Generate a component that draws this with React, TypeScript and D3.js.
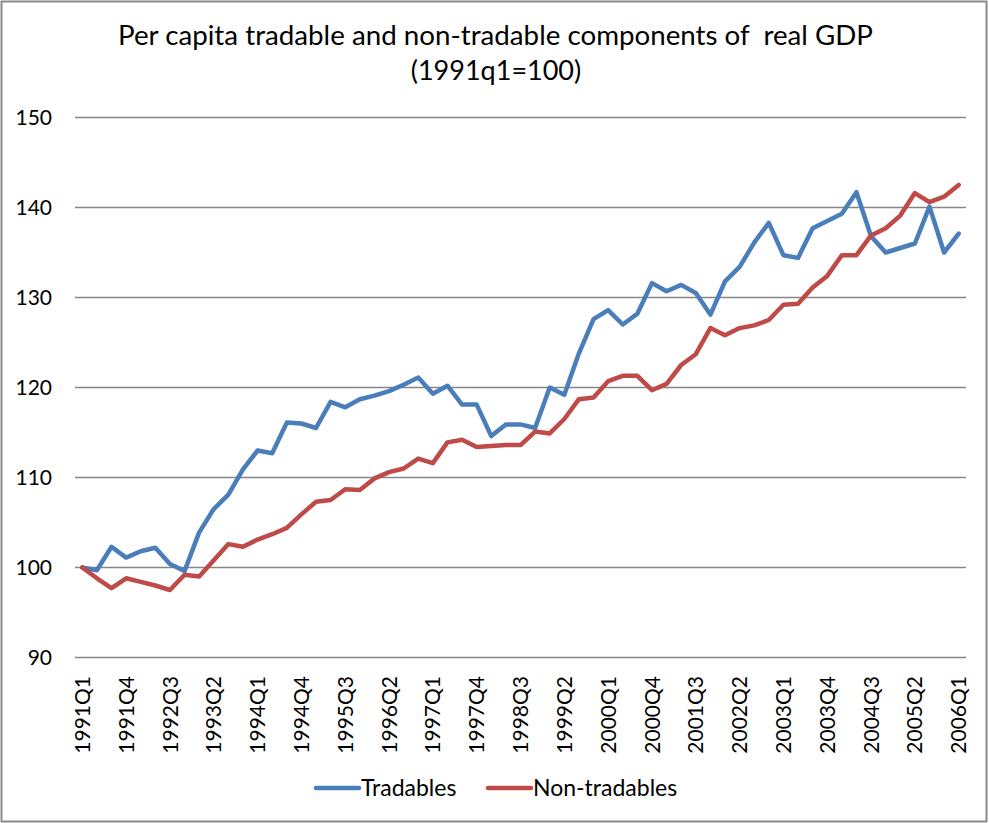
import * as d3 from "d3";
import { useEffect, useRef } from "react";

const quarters = [
  "1991Q1", "1991Q2", "1991Q3", "1991Q4", "1992Q1", "1992Q2", "1992Q3", "1992Q4",
  "1993Q1", "1993Q2", "1993Q3", "1993Q4", "1994Q1", "1994Q2", "1994Q3", "1994Q4",
  "1995Q1", "1995Q2", "1995Q3", "1995Q4", "1996Q1", "1996Q2", "1996Q3", "1996Q4",
  "1997Q1", "1997Q2", "1997Q3", "1997Q4", "1998Q1", "1998Q2", "1998Q3", "1998Q4",
  "1999Q1", "1999Q2", "1999Q3", "1999Q4", "2000Q1", "2000Q2", "2000Q3", "2000Q4",
  "2001Q1", "2001Q2", "2001Q3", "2001Q4", "2002Q1", "2002Q2", "2002Q3", "2002Q4",
  "2003Q1", "2003Q2", "2003Q3", "2003Q4", "2004Q1", "2004Q2", "2004Q3", "2004Q4",
  "2005Q1", "2005Q2", "2005Q3", "2005Q4", "2006Q1",
];

const tradables = [
  100, 99.7, 102.3, 101.1, 101.8, 102.2, 100.4, 99.6, 103.9, 106.5,
  108.1, 110.9, 113.0, 112.7, 116.1, 116.0, 115.5, 118.4, 117.8, 118.7,
  119.1, 119.6, 120.3, 121.1, 119.3, 120.2, 118.1, 118.1, 114.6, 115.9,
  115.9, 115.5, 120.0, 119.2, 123.8, 127.6, 128.6, 127.0, 128.2, 131.6,
  130.7, 131.4, 130.5, 128.1, 131.8, 133.4, 136.1, 138.3, 134.7, 134.4,
  137.7, 138.5, 139.3, 141.7, 136.8, 135.0, 135.5, 136.0, 140.1, 135.0,
  137.1,
];

const nonTradables = [
  100, 98.8, 97.7, 98.8, 98.4, 98.0, 97.5, 99.2, 99.0, 100.8,
  102.6, 102.3, 103.1, 103.7, 104.4, 105.9, 107.3, 107.5, 108.7, 108.6,
  109.9, 110.6, 111.0, 112.1, 111.6, 113.9, 114.2, 113.4, 113.5, 113.6,
  113.6, 115.1, 114.9, 116.5, 118.7, 118.9, 120.7, 121.3, 121.3, 119.7,
  120.4, 122.5, 123.7, 126.6, 125.8, 126.6, 126.9, 127.5, 129.2, 129.3,
  131.1, 132.4, 134.7, 134.7, 136.9, 137.7, 139.1, 141.6, 140.6, 141.2,
  142.5,
];

const yTicks = [90, 100, 110, 120, 130, 140, 150];

const seriesNames = ["Tradables", "Non-tradables"];
const seriesColors = ["#4a7ebb", "#be4b48"];

const font = "Lato, 'Open Sans', sans-serif";

export default function App() {
  const ref = useRef<SVGSVGElement>(null);
  const width = 989;
  const height = 823;

  useEffect(() => {
    const svg = d3.select(ref.current);
    svg.selectAll("*").remove();

    const x = d3.scaleBand<string>().domain(quarters).range([75, 966]);
    const y = d3.scaleLinear().domain([90, 150]).range([657.5, 117.5]);
    const cx = (q: string) => (x(q) as number) + x.bandwidth() / 2;

    svg
      .append("rect")
      .attr("x", 1.5)
      .attr("y", 1.5)
      .attr("width", width - 4)
      .attr("height", height - 3)
      .attr("fill", "#fff")
      .attr("stroke", "#898989")
      .attr("stroke-width", 2);

    // title
    const title = svg
      .append("text")
      .attr("font-family", font)
      .attr("font-size", 27)
      .attr("fill", "#000");
    title
      .append("tspan")
      .attr("x", 118)
      .attr("y", 45)
      .attr("textLength", 755)
      .attr("lengthAdjust", "spacingAndGlyphs")
      .text("Per capita tradable and non-tradable components of\u00a0 real GDP");
    title
      .append("tspan")
      .attr("x", 496)
      .attr("y", 80)
      .attr("text-anchor", "middle")
      .text("(1991q1=100)");

    // gridlines + y labels
    const g = svg.append("g");
    g.selectAll("line.grid")
      .data(yTicks)
      .join("line")
      .attr("class", "grid")
      .attr("x1", 75)
      .attr("x2", 966)
      .attr("y1", (d) => y(d))
      .attr("y2", (d) => y(d))
      .attr("stroke", "#868686")
      .attr("stroke-width", 1.5);

    g.selectAll("text.ylab")
      .data(yTicks)
      .join("text")
      .attr("class", "ylab")
      .attr("x", 52)
      .attr("y", (d) => y(d))
      .attr("dy", "0.35em")
      .attr("text-anchor", "end")
      .attr("font-family", font)
      .attr("font-size", 21)
      .text((d) => d);

    // x labels, every third quarter
    g.selectAll("text.xlab")
      .data(quarters.filter((_, i) => i % 3 === 0))
      .join("text")
      .attr("class", "xlab")
      .attr("transform", (d) => `translate(${cx(d)},676) rotate(-90)`)
      .attr("dy", "0.36em")
      .attr("text-anchor", "end")
      .attr("font-family", font)
      .attr("font-size", 21)
      .text((d) => d);

    const line = d3
      .line<number>()
      .x((_, i) => cx(quarters[i]))
      .y((d) => y(d));

    [tradables, nonTradables].forEach((vals, k) => {
      g.append("path")
        .attr("d", line(vals))
        .attr("fill", "none")
        .attr("stroke", seriesColors[k])
        .attr("stroke-width", 4.5)
        .attr("stroke-linejoin", "round")
        .attr("stroke-linecap", "round");
    });

    // legend
    const legendX = [316, 488];
    seriesNames.forEach((name, k) => {
      g.append("line")
        .attr("x1", legendX[k])
        .attr("x2", legendX[k] + 43)
        .attr("y1", 788)
        .attr("y2", 788)
        .attr("stroke", seriesColors[k])
        .attr("stroke-width", 4.5)
        .attr("stroke-linecap", "round");
      g.append("text")
        .attr("x", legendX[k] + 45)
        .attr("y", 788)
        .attr("dy", "0.35em")
        .attr("font-family", font)
        .attr("font-size", 23)
        .text(name);
    });
  });

  return (
    <svg
      ref={ref}
      width={width}
      height={height}
      style={{ position: "absolute", left: 0, top: 0, display: "block" }}
    />
  );
}
